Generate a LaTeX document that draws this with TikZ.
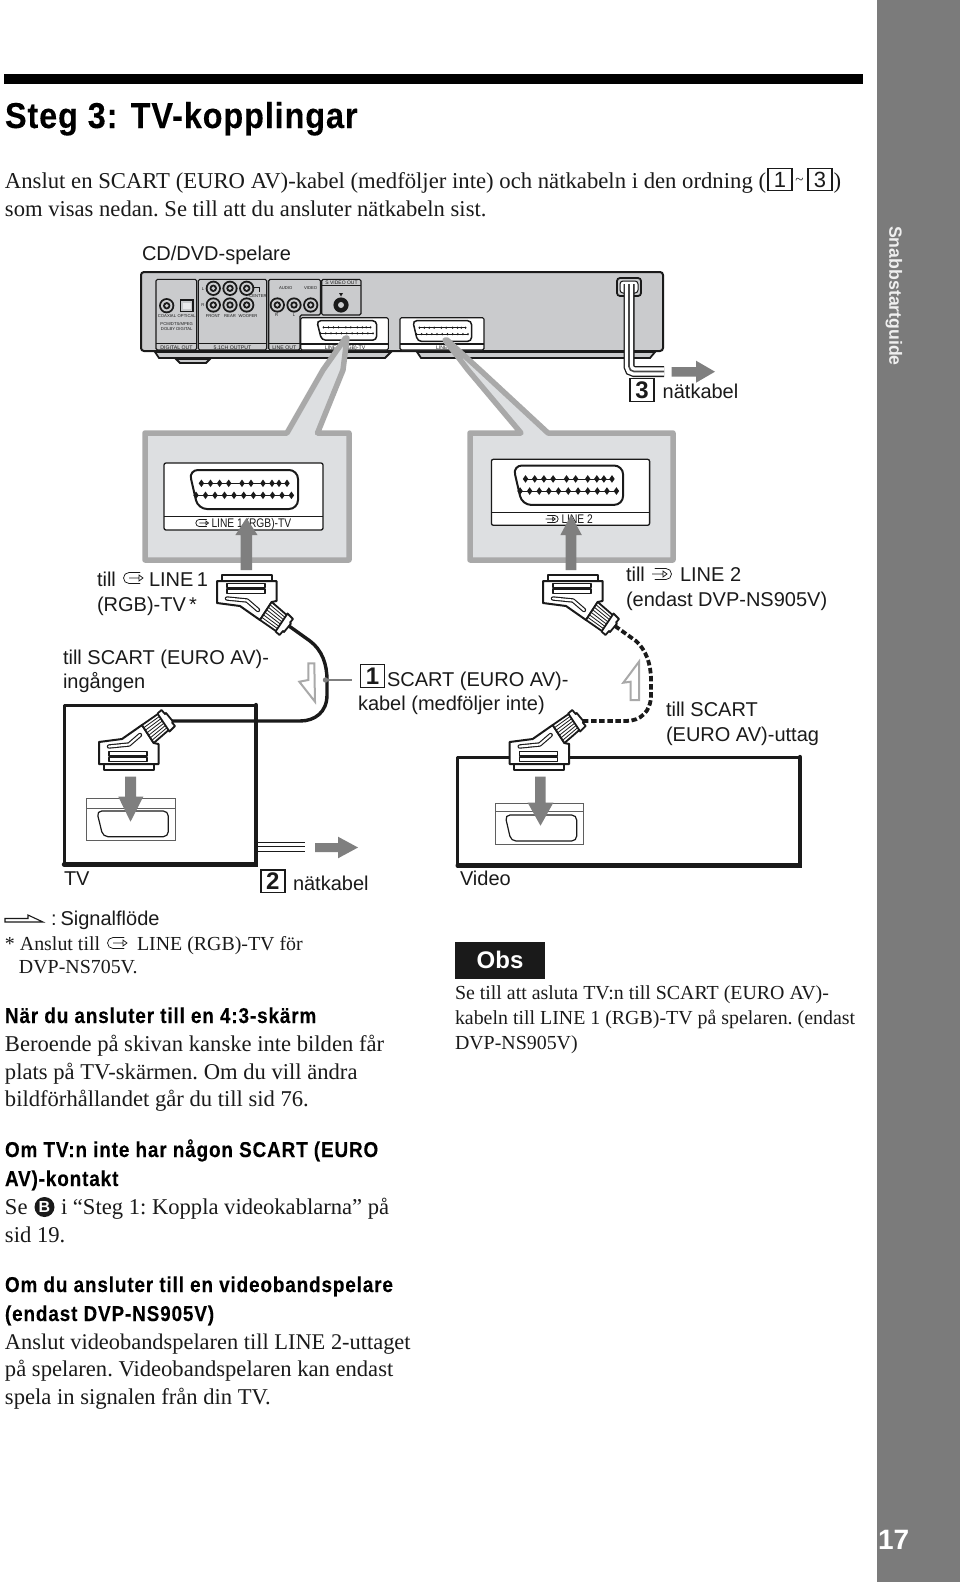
\documentclass[tikz,border=0pt]{standalone}
\usepackage{fontspec}
\setmainfont{Liberation Serif}
\setsansfont{Liberation Sans}
\newfontfamily\headfont[FakeStretch=0.9,LetterSpace=2.5,FakeBold=0.25]{Liberation Sans Bold}
\newfontfamily\subhfont[FakeStretch=0.88,LetterSpace=4,FakeBold=0.25]{Liberation Sans Bold}
\newfontfamily\condsans[FakeStretch=0.82]{Liberation Sans}
\usetikzlibrary{calc}
\definecolor{side}{HTML}{7B7B7B}
\definecolor{pl}{HTML}{CACBCD}
\definecolor{callb}{HTML}{A9A9A9}
\definecolor{callf}{HTML}{DDDFE1}
\definecolor{arrowg}{HTML}{7F7F7F}
\definecolor{ink}{HTML}{1A1A1A}
\newcommand{\fsr}{\fontsize{22.6}{26}\selectfont\rmfamily\frenchspacing}
\newcommand{\fsn}{\fontsize{19.9}{24}\selectfont\rmfamily\frenchspacing}
\newcommand{\fsa}{\fontsize{20}{25}\selectfont\sffamily}
\newcommand{\fst}{\fontsize{4.2}{5}\selectfont\sffamily}
\newcommand{\fsh}{\fontsize{21.5}{26}\selectfont\subhfont}
\tikzset{
  tx/.style={anchor=base west,inner sep=0pt,outer sep=0pt,text=ink},
  tc/.style={anchor=base,inner sep=0pt,outer sep=0pt,text=ink,font=\fst},
  bigbox/.style={draw=ink,line width=1.4pt,fill=white,minimum width=24pt,minimum height=22.5pt,inner sep=0pt,font=\fontsize{24}{24}\selectfont\sffamily\bfseries,text=ink},
  garrow/.style={fill=arrowg,draw=none},
  hollow/.style={draw=callb,line width=2pt,fill=white,line join=miter},
  panel/.style={draw=ink,line width=1.1pt,rounded corners=1.5pt},
}
\newcommand{\rca}[2]{\fill[ink] (#1,#2) circle (7.6);\fill[pl] (#1,#2) circle (5.7);\fill[ink] (#1,#2) circle (3.7);\fill[pl] (#1,#2) circle (1.9);}
% scart face: x y sx sy lw radius pin
\newcommand{\scartface}[7]{%
 \begin{scope}[shift={(#1,#2)},xscale=#3,yscale=#4]
  \draw[ink,line width=#5,rounded corners=#6] (0,0) -- (109,0) -- (109,39) -- (9,39) -- cycle;
  \draw[ink,line width=0.8pt] (12.4,13.3) -- (98,13.3) (7,25.3) -- (102.4,25.3);
  \foreach \u in {12.4,21.5,30.6,39.7,53,62,74,83,90,98}{\fill[ink] (\u-#7,13.3) -- (\u,13.3-#7*1.4) -- (\u+#7,13.3) -- (\u,13.3+#7*1.4) -- cycle;}
  \foreach \u in {7,16.5,26,35.5,45,54.7,64.4,74,83.5,93,102.4}{\fill[ink] (\u-#7,25.3) -- (\u,25.3-#7*1.4) -- (\u+#7,25.3) -- (\u,25.3+#7*1.4) -- cycle;}
 \end{scope}}
% plug in local coords: u from centre, v away from base
\newcommand{\plug}[3]{%
 \begin{scope}[shift={(#1,#2)},yscale=#3,ink,line join=round]
  \draw[line width=2pt,fill=white] (-24.5,0) rectangle (25.5,6);
  \draw[line width=2pt,fill=white] (-29,6) -- (-29,28) -- (-6,31) -- (14,45) -- (25.7,27) -- (30.5,26) -- (30.5,6) -- cycle;
  \draw[line width=1.2pt,fill=white] (-19,8.5) rectangle (19,12.5) (-19,14) rectangle (19,18.3);
  \draw[line width=4.4pt,line cap=round,line join=round] (-19,23.5) -- (1,25.5) -- (12,35);
  \draw[white,line width=2.1pt,line cap=round,line join=round] (-19,23.5) -- (1,25.5) -- (12,35);
  \draw[line width=1.8pt,fill=white] (14,45) -- (25.7,27) -- (43,42) -- (31.3,57) -- cycle;
  \foreach \t in {.15,.29,.43,.57,.71,.85}{\draw[line width=.8pt] ($(25.7,27)!\t!(14,45)$) -- ($(43,42)!\t!(31.3,57)$);}
  \draw[line width=1.8pt,fill=white] (41.5,38.5) -- (47,44) -- (44,47.5) -- (45,48.5) -- (38,57) -- (37,56) -- (33.5,60) -- (29.5,56.5) -- cycle;
 \end{scope}}
\tikzset{
 pics/outicon/.style={code={
   \draw[ink,line width=.75pt,line cap=round] (7,-5.5) -- (-4,-5.5) arc (270:90:5.5) -- (7,5.5);
   \draw[ink,line width=.75pt] (-4,0) -- (6,0) (6,-3) -- (10,0) -- (6,3) -- cycle;}},
 pics/inicon/.style={code={
   \draw[ink,line width=.75pt,line cap=round] (-7,-5.5) -- (4,-5.5) arc (-90:90:5.5) -- (-7,5.5);
   \draw[ink,line width=.75pt] (-10,0) -- (1,0) (1,-3) -- (5,0) -- (1,3) -- cycle;}},
}
\begin{document}
\begin{tikzpicture}[x=1pt,y=-1pt]
\useasboundingbox (0,0) rectangle (960,1582);
\fill[white] (0,0) rectangle (960,1582);
% sidebar
\fill[side] (877,0) rectangle (960,1582);
\node[inner sep=0pt,rotate=-90,text=white!88!side,font=\fontsize{17.7}{20}\selectfont\sffamily\bfseries] (sidelabel) at (894,296) {Snabbstartguide};
\node[tx,text=white,font=\fontsize{28}{30}\selectfont\sffamily\bfseries] (pageno) at (878,1549) {17};
% top bar + heading
\fill[black] (4,74) rectangle (863,83.5);
\node[tx,text=black] (h1) at (5,128) {\fontsize{36}{40}\selectfont\headfont Steg 3: TV-kopplingar};
\node[tx] (p1a) at (5,188) {\fontsize{22.7}{26}\selectfont\rmfamily Anslut en SCART (EURO AV)-kabel (medföljer inte) och nätkabeln i den ordning (};
\node[bigbox,line width=1.2pt,font=\fontsize{22}{22}\selectfont\sffamily] (q1) at (780,179.5) {1};
\node[inner sep=0pt,font=\fontsize{15}{15}\selectfont\rmfamily,text=ink] (qt) at (799.5,181) {\textasciitilde};
\node[bigbox,line width=1.2pt,font=\fontsize{22}{22}\selectfont\sffamily] (q3) at (820,179.5) {3};
\node[tx] (qc) at (833.5,188) {\fontsize{22.7}{26}\selectfont\rmfamily )};
\node[tx] (p1b) at (5,216) {\fsr som visas nedan. Se till att du ansluter nätkabeln sist.};
\node[tx] (cdlabel) at (142,260) {\fsa CD/DVD-spelare};
% ---------- player
\draw[ink,line width=1.8pt,fill=pl] (155,352) -- (159,358) -- (385,358) -- (391,352) -- cycle;
\draw[ink,line width=1.8pt,fill=pl] (417,352) -- (421,358) -- (650,358) -- (655,352) -- cycle;
\draw[ink,line width=1.8pt,fill=pl] (176,359) -- (180,363) -- (206,363) -- (210,359) -- cycle;
\draw[ink,line width=2pt,fill=pl,rounded corners=3pt] (141,351) -- (141,272) -- (663,272) -- (663,351) -- cycle;
\draw[panel] (156,279.3) rectangle (196.7,350);
\draw[panel] (156,343.5) -- (196.7,343.5);
\draw[panel] (198.3,279.3) rectangle (266.7,350);
\draw[panel] (198.3,343.5) -- (266.7,343.5);
\draw[panel] (268.7,350) -- (268.7,279.3) -- (320.5,279.3) -- (320.5,315) -- (300,315) -- (300,350) -- cycle;
\draw[panel] (268.7,343.5) -- (300,343.5);
\draw[panel] (321.7,279.3) rectangle (361,315);
\draw[panel] (321.7,285.5) -- (361,285.5);
\rca{213.3}{288.3}\rca{230}{288.3}\rca{246.7}{288.3}
\rca{213.3}{305}\rca{230}{305}\rca{246.7}{305}
\rca{166.7}{305.7}
\draw[ink,line width=1.5pt,fill=pl] (180.5,300) rectangle (193,311.7);
\fill[white!60!pl] (183,302.5) rectangle (190.5,309.2);
\rca{277.3}{305}\rca{294}{305}\rca{310.7}{305}
\fill[ink] (341,305) circle (7.6);
\fill[pl] (341,305) circle (3);
\fill[ink] (339,293) -- (343,293) -- (341,296.5) -- cycle;
\draw[ink,line width=.9pt] (254,287) -- (259,287) -- (259,292);
\node[tc] (t1) at (167,317) {COAXIAL};
\node[tc] (t2) at (186.7,317) {OPTICAL};
\node[tc] (t3) at (176.7,325) {PCM/DTS/MPEG};
\node[tc] (t4) at (176.7,330) {DOLBY DIGITAL};
\node[tc,font=\fontsize{5.2}{6}\selectfont\sffamily] (t5) at (176.5,349) {DIGITAL OUT};
\node[tc,font=\fontsize{5.2}{6}\selectfont\sffamily] (t6) at (232.5,349) {5.1CH OUTPUT};
\node[tc,font=\fontsize{5.2}{6}\selectfont\sffamily] (t7) at (284.3,349) {LINE OUT};
\node[tc] (t8) at (213,317.5) {FRONT};
\node[tc] (t9) at (230,317.5) {REAR};
\node[tc] (t10) at (248,317.5) {WOOFER};
\node[tc] (t11) at (258,297.5) {CENTER};
\node[tc] (t12) at (203,290) {L};
\node[tc] (t13) at (203,306.5) {R};
\node[tc] (t14) at (285.7,289.5) {AUDIO};
\node[tc] (t15) at (310.7,289.5) {VIDEO};
\node[tc] (t16) at (276.7,316) {R};
\node[tc] (t17) at (294,316) {L};
\node[tc,font=\fontsize{5}{6}\selectfont\sffamily] (t18) at (341.5,284.3) {S VIDEO OUT};
\draw[panel,fill=white] (300.7,317.7) rectangle (388.3,350);
\draw[panel] (300.7,344) -- (388.3,344);
\draw[panel,fill=white] (400,317.7) rectangle (484,350);
\draw[panel] (400,344) -- (484,344);
\node[tc,font=\fontsize{5.2}{6}\selectfont\sffamily] (t19) at (345,349) {LINE 1 (RGB)-TV};
\node[tc,font=\fontsize{5.2}{6}\selectfont\sffamily] (t20) at (444,349) {LINE 2};
\scartface{316.7}{320.7}{.55}{.5}{1.5pt}{4pt}{1.7}
\scartface{412.7}{320.7}{.54}{.53}{1.5pt}{4pt}{1.7}
% ---------- call-outs
\draw[callb,line width=5.5pt,fill=callf,line join=round] (145,433) -- (287,433) -- (323,370) -- (345.5,338) -- (347,338) -- (343,370) -- (317.5,433) -- (349,433) -- (349,560) -- (145,560) -- cycle;
\draw[callb,line width=5.5pt,fill=callf,line join=round] (470,433) -- (521,433) -- (468,370) -- (445,340) -- (447,340) -- (480,370) -- (548,433) -- (673,433) -- (673,560) -- (470,560) -- cycle;
\draw[ink,line width=1.3pt,fill=white,rounded corners=2pt] (164,463) rectangle (323,530);
\draw[ink,line width=1pt] (164,516.7) -- (323,516.7);
\draw[ink,line width=1.3pt,fill=white,rounded corners=2pt] (491.4,459.3) rectangle (649.6,525.3);
\draw[ink,line width=1pt] (491.4,512.7) -- (649.6,512.7);
\scartface{189}{470}{1}{1}{2pt}{9pt}{2.7}
\scartface{513}{465.5}{1.01}{1.01}{2pt}{9pt}{2.7}
\pic[scale=.65] (ic1) at (202,523) {outicon};
\node[tx,font=\fontsize{12.5}{13}\selectfont\condsans] (l1) at (211.5,527.5) {LINE 1 (RGB)-TV};
\pic[scale=.65] (ic2) at (552,519) {inicon};
\node[tx,font=\fontsize{12.5}{13}\selectfont\condsans] (l2) at (561.5,523.5) {LINE 2};
\fill[garrow] (240.7,570) -- (240.7,535) -- (235.4,535) -- (246.4,518) -- (257.5,535) -- (252,535) -- (252,570) -- cycle;
\fill[garrow] (565.7,570) -- (565.7,535) -- (560.4,535) -- (571,515) -- (581.8,535) -- (576.4,535) -- (576.4,570) -- cycle;
% ---------- boxes
\draw[ink,line width=3pt,line join=round] (64,705) rectangle (256,864);
\draw[ink,line width=4.4pt,line cap=round] (64,864.5) -- (256,864.5) -- (256,705);
\draw[ink,line width=3pt,line join=round] (457.7,757) rectangle (800,865);
\draw[ink,line width=4.4pt,line cap=round] (457.7,865.5) -- (800,865.5) -- (800,757);
% sockets
\draw[ink!70,line width=.8pt,fill=white] (86.7,798.3) rectangle (175,840);
\draw[ink!70,line width=.8pt] (86.7,808.3) -- (175,808.3);
\draw[ink,line width=1.2pt,rounded corners=5pt] (96.7,811) -- (168.3,811) -- (168.3,836.7) -- (103,836.7) -- cycle;
\draw[ink!70,line width=.8pt,fill=white] (495,803.3) rectangle (583.3,844);
\draw[ink!70,line width=.8pt] (495,811.7) -- (583.3,811.7);
\draw[ink,line width=1.2pt,rounded corners=5pt] (505,815) -- (576.7,815) -- (576.7,841) -- (511,841) -- cycle;
\fill[garrow] (125,776.7) -- (136,776.7) -- (136,796.7) -- (143.3,796.7) -- (130.5,821.7) -- (118.3,796.7) -- (125,796.7) -- cycle;
\fill[garrow] (535,776.7) -- (545.7,776.7) -- (545.7,802.7) -- (553.3,802.7) -- (540.5,825.7) -- (527.7,802.7) -- (535,802.7) -- cycle;
% cables
\coordinate (c1a) at (289,626);
\coordinate (c1b) at (170,721);
\coordinate (c2a) at (615,626);
\coordinate (c2b) at (578,721);
\draw[ink,line width=3.4pt] (c1a) -- (310,641) .. controls (322,650) and (327,664) .. (327,680) -- (327,695) .. controls (327,712) and (315,721) .. (300,721) -- (c1b);
\draw[ink,line width=3.8pt,dash pattern=on 5.5pt off 2.6pt] (c2a) -- (636,641) .. controls (646,650) and (651,664) .. (651,680) -- (651,695) .. controls (651,712) and (640,721) .. (626,721) -- (c2b);
\plug{246}{575}{1}
\plug{572}{575}{1}
\plug{128}{770}{-1}
\plug{538.7}{770}{-1}
% hollow arrows
\draw[hollow] (308.3,663.3) -- (314.3,663.3) -- (315,701.7) -- (299.3,681.7) -- (308.3,680) -- cycle;
\draw[hollow] (630.7,700) -- (639,700) -- (639,661.7) -- (623.3,682.7) -- (630.7,681.7) -- cycle;
% leader
\coordinate (ldr) at (351.7,680);
\fill[arrowg] (325.5,680) circle (2.7) coordinate (dot);
\draw[arrowg,line width=1.5pt] (dot) -- (ldr);
% power cords
\coordinate (tvc1) at (257,846.7);
\draw[ink,line width=.8pt] (257,842.3) -- (305,842.3) (tvc1) -- (305,846.7) (257,851.7) -- (305,851.7);
\fill[garrow] (315,843) -- (338,843) -- (338,836.7) -- (358,847.5) -- (338,858.3) -- (338,852) -- (315,852) -- cycle;
\draw[ink,line width=1.8pt,rounded corners=3pt,fill=pl] (617,278) rectangle (641,296);
\draw[ink,line width=1pt,rounded corners=3pt,fill=white] (620,281) rectangle (638,293);
\coordinate (co1) at (629,284);
\coordinate (co2) at (664,371.5);
\draw[ink,line width=11pt,rounded corners=5pt] (co1) -- (629,371.5) -- (co2);
\draw[white,line width=8.4pt,rounded corners=5pt] (co1) -- (629,371.5) -- (co2);
\draw[ink!80,line width=1.6pt,rounded corners=5pt] (co1) -- (629,371.5) -- (co2);
\fill[garrow] (671.7,367) -- (696,367) -- (696,360.7) -- (715,371.7) -- (696,382.7) -- (696,376.7) -- (671.7,376.7) -- cycle;
% numbered boxes
\node[bigbox] (n3) at (642,390) {3};
\node[tx] (n3t) at (662.7,398) {\fsa nätkabel};
\node[bigbox] (n2) at (272.8,881.3) {2};
\node[tx] (n2t) at (293,890) {\fsa nätkabel};
\node[bigbox] (n1) at (372.5,676) {1};
% labels
\node[tx] (a1) at (97,586) {\fsa till};
\pic[scale=1] (ic3) at (133,578) {outicon};
\node[tx] (a1b) at (149,586) {\fsa LINE\,1};
\node[tx] (a2) at (97,611) {\fsa (RGB)-TV\,*};
\node[tx] (b1) at (626,581) {\fsa till};
\pic[scale=1] (ic4) at (662,574) {inicon};
\node[tx] (b1b) at (680,581) {\fsa LINE 2};
\node[tx] (b2) at (626,606) {\fsa (endast DVP-NS905V)};
\node[tx] (c1) at (63,664) {\fsa till SCART (EURO AV)-};
\node[tx] (c2) at (63,688) {\fsa ingången};
\node[tx] (d1) at (387,686) {\fsa SCART (EURO AV)-};
\node[tx] (d2) at (358,710) {\fsa kabel (medföljer inte)};
\node[tx] (e1) at (666,716) {\fsa till SCART};
\node[tx] (e2) at (666,741) {\fsa (EURO AV)-uttag};
\node[tx] (tvl) at (64,885) {\fsa TV};
\node[tx] (vl) at (460,885) {\fsa Video};
% legend
\coordinate (lg1) at (5,922);
\draw[ink,line width=1.1pt,fill=white] (lg1) -- (43,922) -- (28,915) -- (28,918.5) -- (5,918.5) -- cycle;
\node[tx] (lg) at (51,925) {\fsa :\hspace{4pt}Signalflöde};
\node[tx] (f1) at (5,950) {\fsn * Anslut till};
\pic[scale=1] (ic5) at (117,943) {outicon};
\node[tx] (f1b) at (137,950) {\fsn LINE (RGB)-TV för};
\node[tx] (f2) at (19,973) {\fsn DVP-NS705V.};
% lower left
\node[tx,text=black] (h2) at (5,1023) {\fsh När du ansluter till en 4:3-skärm};
\node[tx] (g1) at (5,1051) {\fsr Beroende på skivan kanske inte bilden får};
\node[tx] (g2) at (5,1079) {\fsr plats på TV-skärmen. Om du vill ändra};
\node[tx] (g3) at (5,1106) {\fsr bildförhållandet går du till sid 76.};
\node[tx,text=black] (h3) at (5,1157) {\fsh Om TV:n inte har någon SCART (EURO};
\node[tx,text=black] (h3b) at (5,1186) {\fsh AV)-kontakt};
\node[tx] (i1) at (5,1214) {\fsr Se};
\node[circle,fill=ink,text=white,inner sep=0pt,minimum size=20pt,font=\fontsize{16}{16}\selectfont\sffamily\bfseries] (ib) at (44.5,1207) {B};
\node[tx] (i1b) at (61,1214) {\fsr i “Steg 1: Koppla videokablarna” på};
\node[tx] (i2) at (5,1242) {\fsr sid 19.};
\node[tx,text=black] (h4) at (5,1292) {\fsh Om du ansluter till en videobandspelare};
\node[tx,text=black] (h4b) at (5,1321) {\fsh (endast DVP-NS905V)};
\node[tx] (j1) at (5,1349) {\fontsize{22.4}{26}\selectfont\rmfamily Anslut videobandspelaren till LINE 2-uttaget};
\node[tx] (j2) at (5,1376) {\fsr på spelaren. Videobandspelaren kan endast};
\node[tx] (j3) at (5,1404) {\fsr spela in signalen från din TV.};
% Obs
\node[fill=ink,text=white,minimum width=90pt,minimum height=37pt,inner sep=0pt,font=\fontsize{24}{24}\selectfont\sffamily\bfseries] (obs) at (500,960) {Obs};
\node[tx] (k1) at (455,999) {\fsn Se till att asluta TV:n till SCART (EURO AV)-};
\node[tx] (k2) at (455,1024) {\fsn kabeln till LINE 1 (RGB)-TV på spelaren. (endast};
\node[tx] (k3) at (455,1049) {\fsn DVP-NS905V)};
\end{tikzpicture}
\end{document}
